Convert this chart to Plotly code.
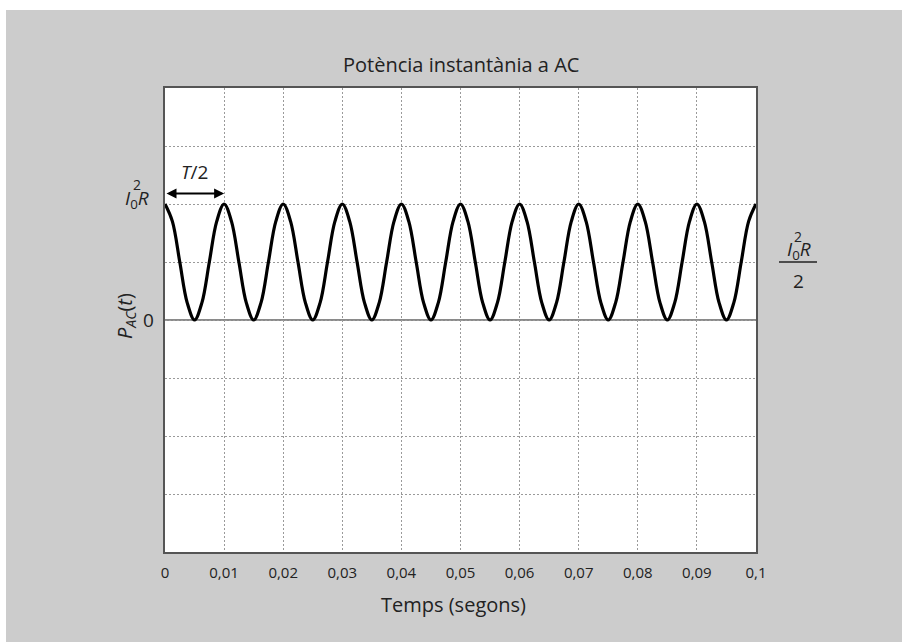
import plotly.graph_objects as go

# ---- data ----
time_s = [
    0.0, 0.00125, 0.0025, 0.00375, 0.005, 0.00625, 0.0075, 0.00875,
    0.01, 0.01125, 0.0125, 0.01375, 0.015, 0.01625, 0.0175, 0.01875,
    0.02, 0.02125, 0.0225, 0.02375, 0.025, 0.02625, 0.0275, 0.02875,
    0.03, 0.03125, 0.0325, 0.03375, 0.035, 0.03625, 0.0375, 0.03875,
    0.04, 0.04125, 0.0425, 0.04375, 0.045, 0.04625, 0.0475, 0.04875,
    0.05, 0.05125, 0.0525, 0.05375, 0.055, 0.05625, 0.0575, 0.05875,
    0.06, 0.06125, 0.0625, 0.06375, 0.065, 0.06625, 0.0675, 0.06875,
    0.07, 0.07125, 0.0725, 0.07375, 0.075, 0.07625, 0.0775, 0.07875,
    0.08, 0.08125, 0.0825, 0.08375, 0.085, 0.08625, 0.0875, 0.08875,
    0.09, 0.09125, 0.0925, 0.09375, 0.095, 0.09625, 0.0975, 0.09875,
    0.1,
]
power = [
    1.0, 0.85, 0.5, 0.15, 0.0, 0.15, 0.5, 0.85,
    1.0, 0.85, 0.5, 0.15, 0.0, 0.15, 0.5, 0.85,
    1.0, 0.85, 0.5, 0.15, 0.0, 0.15, 0.5, 0.85,
    1.0, 0.85, 0.5, 0.15, 0.0, 0.15, 0.5, 0.85,
    1.0, 0.85, 0.5, 0.15, 0.0, 0.15, 0.5, 0.85,
    1.0, 0.85, 0.5, 0.15, 0.0, 0.15, 0.5, 0.85,
    1.0, 0.85, 0.5, 0.15, 0.0, 0.15, 0.5, 0.85,
    1.0, 0.85, 0.5, 0.15, 0.0, 0.15, 0.5, 0.85,
    1.0, 0.85, 0.5, 0.15, 0.0, 0.15, 0.5, 0.85,
    1.0, 0.85, 0.5, 0.15, 0.0, 0.15, 0.5, 0.85,
    1.0,
]
x_tick_vals = [0, 0.01, 0.02, 0.03, 0.04, 0.05, 0.06, 0.07, 0.08, 0.09, 0.1]
x_tick_text = ["0", "0,01", "0,02", "0,03", "0,04", "0,05", "0,06", "0,07", "0,08", "0,09", "0,1"]
y_grid_vals = [-2, -1.5, -1, -0.5, 0, 0.5, 1, 1.5, 2]
y_label_vals = [0, 1]
y_label_text = ["0", "<i>I</i><sub>0</sub><i>R</i>"]
half_period = [0.0, 0.01]
arrow_level = 1.09

# ---- layout geometry ----
W, H = 902, 642
L, R, T, B = 165, 146, 88, 90
PW, PH = W - L - R, H - T - B
FONT = "Open Sans"
TXT = "#222222"


def px(x):
    return (x - L) / PW


def py(y):
    return 1 - (y - T) / PH


def label(x, y, text, size, xanchor="center", **kw):
    d = dict(x=x, y=y, xref=kw.pop("xref", "paper"), yref=kw.pop("yref", "paper"),
             text=text, showarrow=False, xanchor=xanchor, yanchor="middle",
             font=dict(family=FONT, size=size, color=TXT))
    d.update(kw)
    return d


fig = go.Figure()
fig.add_trace(go.Scatter(
    x=time_s, y=power, mode="lines",
    line=dict(color="black", width=3.2, shape="spline", smoothing=1.0),
    hoverinfo="skip", showlegend=False,
))

grid = dict(showgrid=True, gridcolor="#9a9a9a", griddash="2px,2px", gridwidth=1,
            showline=True, linecolor="#555555", linewidth=2, mirror=True,
            ticks="", zeroline=False)

fig.update_xaxes(range=[0, 0.1], tickvals=x_tick_vals, ticktext=x_tick_text,
                 tickfont=dict(family=FONT, size=15, color=TXT), ticklabelstandoff=6, **grid)
fig.update_yaxes(range=[-2, 2], tickvals=y_grid_vals, showticklabels=False, **grid)

shapes = [
    # white margins of the scanned figure
    dict(type="rect", xref="paper", yref="paper", x0=px(0), x1=px(6), y0=py(0), y1=py(H),
         fillcolor="white", line=dict(width=0), layer="below"),
    dict(type="rect", xref="paper", yref="paper", x0=px(0), x1=px(W), y0=py(0), y1=py(10),
         fillcolor="white", line=dict(width=0), layer="below"),
    # zero line
    dict(type="line", xref="x", yref="y", x0=0, x1=0.1, y0=0, y1=0,
         line=dict(color="#8a8a8a", width=2), layer="below"),
    # fraction bar for I0^2R/2
    dict(type="line", xref="paper", yref="paper", x0=px(779), x1=px(817), y0=py(262), y1=py(262),
         line=dict(color=TXT, width=1.5)),
]

annotations = [
    dict(x=half_period[1], y=arrow_level, ax=half_period[0], ay=arrow_level,
         xref="x", yref="y", axref="x", ayref="y", text="", showarrow=True,
         arrowhead=2, startarrowhead=2, arrowside="end+start", arrowwidth=2,
         arrowsize=1, startarrowsize=1, arrowcolor="black", standoff=0, startstandoff=0),
    label(0.005, 1.28, "<i>T</i>/2", 19, xref="x", yref="y"),
    # y labels
    label(px(156), y_label_vals[0], y_label_text[0], 19, xanchor="right", yref="y"),
    label(px(151), y_label_vals[1], y_label_text[1], 19, xanchor="right", yref="y", yshift=5),
    label(px(137), py(184), "2", 14),
    label(px(125), py(316), "<i>P</i><sub><i>AC</i></sub>(<i>t</i>)", 20, textangle=-90),
    # right fraction I0^2R / 2
    label(px(813), py(250), "<i>I</i><sub>0</sub><i>R</i>", 19, xanchor="right"),
    label(px(798), py(236), "2", 14),
    label(px(798), py(281), "2", 19),
    # title and x axis title
    label(px(461), py(64), "Potència instantània a AC", 20),
    label(px(453), py(604), "Temps (segons)", 20),
]

fig.update_layout(
    width=W, height=H,
    margin=dict(l=L, r=R, t=T, b=B, autoexpand=False),
    paper_bgcolor="#cccccc", plot_bgcolor="white",
    shapes=shapes, annotations=annotations,
    font=dict(family=FONT, color=TXT),
)

fig.write_html("out.html", config={"displayModeBar": False},
               post_script="document.body.style.margin='0';document.body.style.padding='0';")
